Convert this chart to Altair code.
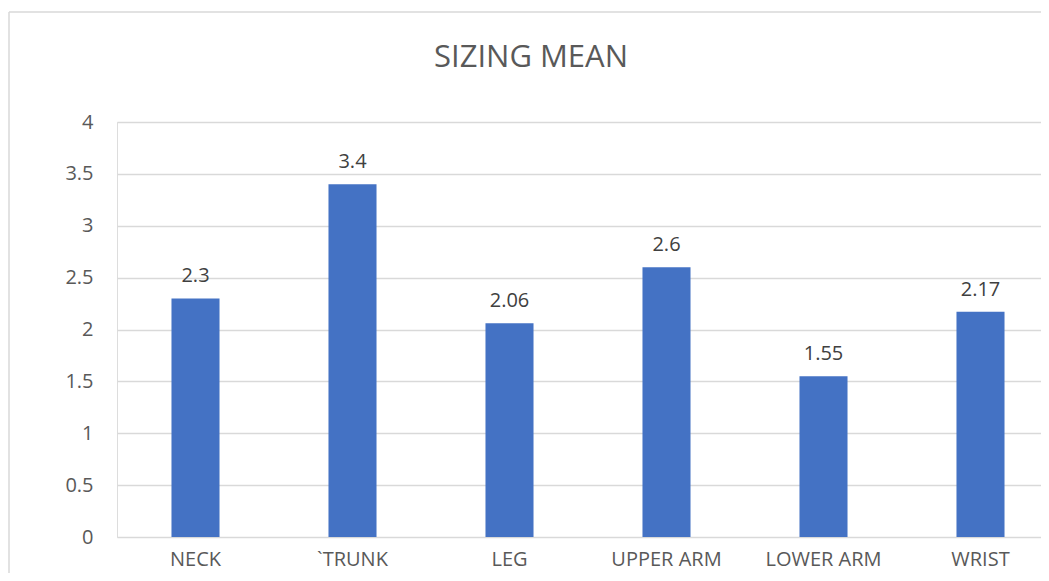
import altair as alt
import pandas as pd

categories = ["NECK", "`TRUNK", "LEG", "UPPER ARM", "LOWER ARM", "WRIST"]
values = [2.3, 3.4, 2.06, 2.6, 1.55, 2.17]
labels = ["2.3", "3.4", "2.06", "2.6", "1.55", "2.17"]
y_ticks = [0, 0.5, 1, 1.5, 2, 2.5, 3, 3.5, 4]
chart_title = "SIZING MEAN"

df = pd.DataFrame({"cat": categories, "val": values, "lab": labels})

FONT = "Open Sans"
W, H = 924, 415

x_enc = alt.X(
    "cat:N",
    sort=categories,
    scale=alt.Scale(range=[0, 942], paddingInner=0.694, paddingOuter=0.347),
    axis=alt.Axis(
        title=None, labelAngle=0, ticks=False, domain=False, grid=False,
        labelFont=FONT, labelFontSize=20, labelColor="#595959", labelPadding=12,
    ),
)
y_enc = alt.Y(
    "val:Q",
    scale=alt.Scale(domain=[0, 4], nice=False),
    axis=alt.Axis(
        title=None, values=y_ticks, ticks=False, domain=False, format="~g",
        grid=True, gridColor="#d9d9d9", gridWidth=1.5,
        labelFont=FONT, labelFontSize=20, labelColor="#595959", labelPadding=24,
    ),
)

bars = alt.Chart(df).mark_bar(color="#4472C4").encode(x=x_enc, y=y_enc)

text = alt.Chart(df).mark_text(
    font=FONT, fontSize=20, color="#404040", baseline="alphabetic", dy=-16
).encode(x=alt.X("cat:N", sort=categories), y="val:Q", text="lab:N")

one = alt.Data(values=[{"t": chart_title}])

title_mark = alt.Chart(one).mark_text(
    font=FONT, fontSize=31, color="#595959", baseline="alphabetic", align="center"
).encode(x=alt.value(414), y=alt.value(-55), text="t:N")

border_top = alt.Chart(one).mark_rule(color="#d9d9d9", strokeWidth=1.5).encode(
    x=alt.value(-108), x2=alt.value(940), y=alt.value(-110)
)
border_left = alt.Chart(one).mark_rule(color="#d9d9d9", strokeWidth=1.5).encode(
    x=alt.value(-108), y=alt.value(-110), y2=alt.value(480)
)

chart = alt.layer(border_top, border_left, title_mark, bars, text).properties(
    width=W,
    height=H,
    autosize=alt.AutoSizeParams(type="none"),
    padding={"left": 109, "top": 114, "right": 0, "bottom": 36},
).configure_view(stroke=None).configure(background="white")

chart.save("out.html", embed_options={"renderer": "svg", "actions": False})
